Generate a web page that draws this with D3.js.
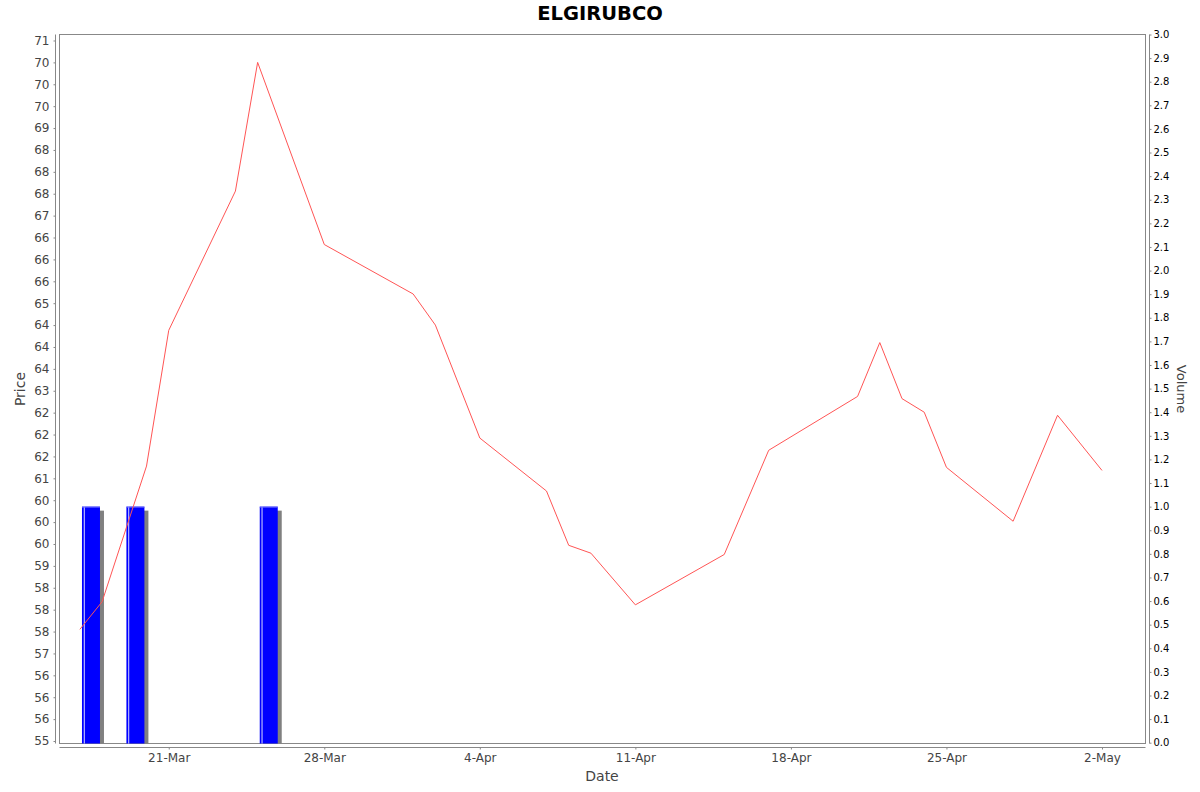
<!DOCTYPE html>
<html>
<head>
<meta charset="utf-8">
<script src="https://cdn.jsdelivr.net/npm/d3@7"></script>
<style>
  body { margin: 0; background: #fff; }
  text { font-family: "DejaVu Sans", sans-serif; }
</style>
</head>
<body>
<div class="chart"></div>
<script>

// price series (red line)
const priceDates = ["2023-03-17","2023-03-18","2023-03-20","2023-03-21","2023-03-24","2023-03-25",
  "2023-03-28","2023-04-01","2023-04-02","2023-04-04","2023-04-07","2023-04-08","2023-04-09",
  "2023-04-11","2023-04-15","2023-04-17","2023-04-21","2023-04-22","2023-04-23","2023-04-24",
  "2023-04-25","2023-04-28","2023-04-30","2023-05-02"];
const priceValues = [57.55, 58.18, 61.28, 64.38, 67.56, 70.50,
  66.34, 65.21, 64.50, 61.92, 60.71, 59.47, 59.29,
  58.11, 59.26, 61.64, 62.87, 64.10, 62.82, 62.51,
  61.25, 60.02, 62.44, 61.18];

// volume series (blue bars)
const volumeDates = ["2023-03-17","2023-03-19","2023-03-25"];
const volumeValues = [1.0, 1.0, 1.0];

// date tick labels
const dateTicks = ["2023-03-21","2023-03-28","2023-04-04","2023-04-11","2023-04-18","2023-04-25","2023-05-02"];

const parse = d3.utcParse("%Y-%m-%d");

const W = 1200, H = 792;
const plot = ({left: 59.5, right: 1145.5, top: 34.5, bottom: 743.5});

const svg = d3.select(".chart").append("svg")
    .attr("width", W)
    .attr("height", H);

const xScale = d3.scaleUtc()
    .domain([d3.utcHour.offset(parse("2023-03-21"), -117.6), d3.utcHour.offset(parse("2023-05-02"), 47.5)])
    .range([plot.left, plot.right]);

const yScale = d3.scaleLinear()
    .domain([54.943, 71.137])
    .range([plot.bottom, plot.top]);

const vScale = d3.scaleLinear()
    .domain([0, 3.0])
    .range([plot.bottom - 0.8, plot.top]);

// JFreeChart style half-even rounding for the price labels
function halfEven(v) {
  const f = Math.floor(v), diff = v - f;
  if (Math.abs(diff - 0.5) < 1e-9) return (f % 2 === 0) ? f : f + 1;
  return Math.round(v);
}

// plot outline
svg.append("rect")
    .attr("x", plot.left).attr("y", plot.top)
    .attr("width", plot.right - plot.left)
    .attr("height", plot.bottom - plot.top)
    .attr("fill", "#fff")
    .attr("stroke", "#888")
    .attr("stroke-width", 1);

// volume bars
const bars = volumeDates.map((d, i) => ({date: parse(d), v: volumeValues[i]}));
const dayW = xScale(parse("2023-03-22")) - xScale(parse("2023-03-21"));
const barW = dayW * 0.81;

const barG = svg.append("g");

bars.forEach(d => {
  const cx = xScale(d3.utcHour.offset(d.date, 12));
  const x0 = cx - barW / 2;
  const yTop = vScale(d.v);
  // shadow
  barG.append("rect")
      .attr("x", x0 + 4).attr("y", yTop + 4)
      .attr("width", barW).attr("height", plot.bottom - yTop - 4)
      .attr("fill", "#808080");
  barG.append("rect")
      .attr("x", x0).attr("y", yTop)
      .attr("width", barW).attr("height", plot.bottom - yTop)
      .attr("fill", "#0000ff");
  // light highlight
  barG.append("rect")
      .attr("x", x0 + 1.8).attr("y", yTop)
      .attr("width", 1).attr("height", plot.bottom - yTop)
      .attr("fill", "#ffffff")
      .attr("opacity", 0.85);
  barG.append("rect")
      .attr("x", x0).attr("y", yTop)
      .attr("width", barW).attr("height", 1)
      .attr("fill", "#6b6bff");
});

// price line
const line = d3.line()
    .x(d => xScale(d.date))
    .y(d => yScale(d.v));

const prices = priceDates.map((d, i) => ({date: parse(d), v: priceValues[i]}));

svg.append("path")
    .datum(prices)
    .attr("fill", "none")
    .attr("stroke", "#ff5555")
    .attr("stroke-width", 1)
    .attr("d", line);

// axes
const yaxis = svg.append("g")
    .attr("class", "axis y-axis")
    .attr("transform", "translate(55.5,0)")
    .call(d3.axisLeft(yScale)
      .tickValues(d3.range(55, 71.001, 0.5))
      .tickFormat(halfEven)
      .tickSizeOuter(0)
      .tickSize(2)
      .tickPadding(4));

const vaxis = svg.append("g")
    .attr("class", "axis v-axis")
    .attr("transform", "translate(1149.5,0)")
    .call(d3.axisRight(vScale)
      .tickValues(d3.range(0, 30.5, 1).map(d => d / 10))
      .tickFormat(d3.format(".1f"))
      .tickSizeOuter(0)
      .tickSize(2)
      .tickPadding(2));

const xaxis = svg.append("g")
    .attr("class", "axis x-axis")
    .attr("transform", "translate(0,747.5)")
    .call(d3.axisBottom(xScale)
      .tickValues(dateTicks.map(parse))
      .tickFormat(d3.utcFormat("%-d-%b"))
      .tickSizeOuter(0)
      .tickSize(2)
      .tickPadding(4));

svg.selectAll(".axis path").attr("stroke", "#888");
svg.selectAll(".axis line").attr("stroke", "#888");
// axis lines should span whole plot
yaxis.select("path").attr("d", `M0,${plot.top}V${plot.bottom}`);
vaxis.select("path").attr("d", `M0,${plot.top}V${plot.bottom}`);
xaxis.select("path").attr("d", `M${plot.left},0H${plot.right}`);

yaxis.selectAll("text").attr("font-size", "12px").attr("fill", "#444").style("font-family", "DejaVu Sans");
xaxis.selectAll("text").attr("font-size", "12px").attr("fill", "#444").style("font-family", "DejaVu Sans");
vaxis.selectAll("text").attr("font-size", "10px").attr("fill", "#000").style("font-family", "DejaVu Sans");

// titles
svg.append("text")
    .attr("x", 600).attr("y", 20)
    .attr("text-anchor", "middle")
    .attr("font-weight", "bold")
    .attr("font-size", "19.5px")
    .attr("fill", "#000")
    .text("ELGIRUBCO");

svg.append("text")
    .attr("x", 602).attr("y", 781)
    .attr("text-anchor", "middle")
    .attr("font-size", "14px")
    .attr("fill", "#444")
    .text("Date");

svg.append("text")
    .attr("transform", "translate(25,389) rotate(-90)")
    .attr("text-anchor", "middle")
    .attr("font-size", "14px")
    .attr("fill", "#444")
    .text("Price");

svg.append("text")
    .attr("transform", "translate(1177,389) rotate(90)")
    .attr("text-anchor", "middle")
    .attr("font-size", "13px")
    .attr("fill", "#444")
    .text("Volume");

</script>
</body>
</html>
